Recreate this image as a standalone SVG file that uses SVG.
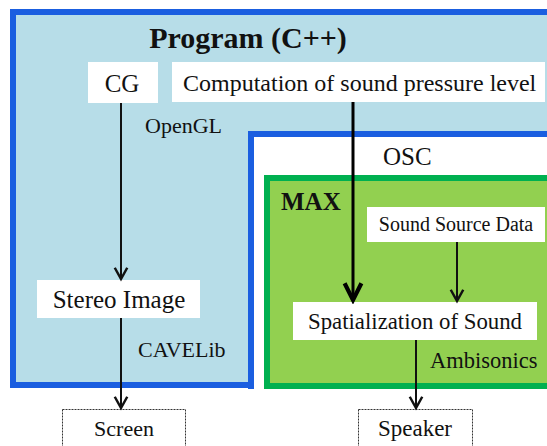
<svg xmlns="http://www.w3.org/2000/svg" width="547" height="446" viewBox="0 0 547 446">
  <defs>
    <style>
      .t { font-family: "Liberation Serif", "Times New Roman", serif; fill: #111; }
      .b { font-weight: bold; }
      .box { fill: #fff; }
      .ext { fill: #fff; stroke: #333; stroke-width: 1; stroke-dasharray: 2 1; }
      .ln { stroke: #111; stroke-width: 2; fill: none; }
      .lnb { stroke: #000; stroke-width: 3; fill: none; }
    </style>
    <marker id="ah" markerUnits="userSpaceOnUse" markerWidth="20" markerHeight="20" viewBox="-12 -8 14 16" refX="0" refY="0" orient="auto">
      <path d="M-9,-5 L0,0 L-9,5" fill="none" stroke="#111" stroke-width="2"/>
    </marker>
    <marker id="ahb" markerUnits="userSpaceOnUse" markerWidth="24" markerHeight="24" viewBox="-16 -10 18 20" refX="0" refY="0" orient="auto">
      <path d="M-14,-7 L0,0 L-14,7" fill="none" stroke="#000" stroke-width="3.5"/>
    </marker>
  </defs>

  <g id="program">
    <rect x="13" y="12" width="600" height="373" fill="#b7dde8" stroke="#1a5ee0" stroke-width="6"/>
    <text class="t b" x="248" y="48" font-size="30" text-anchor="middle">Program (C++)</text>
  </g>

  <g id="osc">
    <rect x="248" y="131" width="310" height="258" fill="#fff"/>
    <path d="M251,389 V134 H560" fill="none" stroke="#1a5ee0" stroke-width="6"/>
    <text class="t" x="383" y="165" font-size="25">OSC</text>
  </g>

  <g id="max">
    <rect x="267" y="178" width="300" height="208" fill="#92d050" stroke="#00b050" stroke-width="6"/>
    <text class="t b" x="281" y="210" font-size="25">MAX</text>
  </g>

  <g id="cg">
    <rect class="box" x="88" y="62" width="70" height="41"/>
    <text class="t" x="122" y="92" font-size="25" text-anchor="middle">CG</text>
  </g>

  <g id="computation">
    <rect class="box" x="172" y="62" width="373" height="40"/>
    <text class="t" x="183" y="91" font-size="24">Computation of sound pressure level</text>
  </g>

  <g id="opengl">
    <text class="t" x="145" y="133" font-size="22">OpenGL</text>
  </g>

  <g id="sound-source-data">
    <rect class="box" x="367" y="207" width="178" height="35"/>
    <text class="t" x="456" y="231" font-size="20" text-anchor="middle">Sound Source Data</text>
  </g>

  <g id="spatialization">
    <rect class="box" x="293" y="302" width="244" height="38"/>
    <text class="t" x="415" y="329" font-size="22.8" text-anchor="middle">Spatialization of Sound</text>
  </g>

  <g id="ambisonics">
    <text class="t" x="430" y="368" font-size="22.5">Ambisonics</text>
  </g>

  <g id="stereo-image">
    <rect class="box" x="37" y="280" width="163" height="38"/>
    <text class="t" x="119" y="308" font-size="25" text-anchor="middle">Stereo Image</text>
  </g>

  <g id="cavelib">
    <text class="t" x="138" y="357" font-size="22">CAVELib</text>
  </g>

  <g id="screen">
    <rect class="ext" x="62.5" y="409.5" width="123" height="40"/>
    <text class="t" x="124" y="436" font-size="22" text-anchor="middle">Screen</text>
  </g>

  <g id="speaker">
    <rect class="ext" x="358.5" y="409.5" width="114" height="40"/>
    <text class="t" x="415" y="436" font-size="23" text-anchor="middle">Speaker</text>
  </g>

  <g id="connectors">
    <path class="ln" d="M121,103 V279" marker-end="url(#ah)"/>
    <path class="ln" d="M121,318 V408" marker-end="url(#ah)"/>
    <path class="lnb" d="M353,102 V300" marker-end="url(#ahb)"/>
    <path class="ln" d="M457,242 V301" marker-end="url(#ah)"/>
    <path class="ln" d="M416,340 V408" marker-end="url(#ah)"/>
  </g>
</svg>
